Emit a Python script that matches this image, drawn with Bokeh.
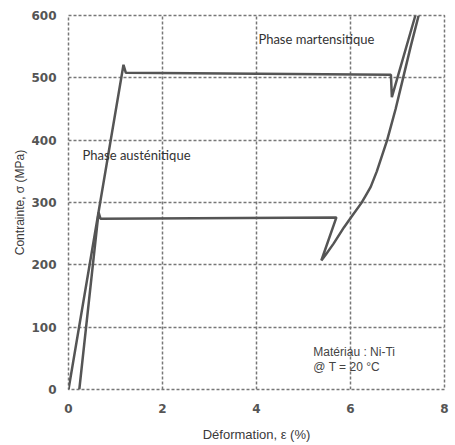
from bokeh.plotting import figure
from bokeh.models import Range1d, FixedTicker
from bokeh.embed import file_html
from bokeh.resources import INLINE
from bokeh.core.properties import value

# Loading path (austenite -> martensite)
load_x = [0.0, 1.17, 1.22, 6.86, 6.88, 7.38]
load_y = [0, 521, 508, 505, 469, 600]
# Unloading path (martensite -> austenite)
unload_x = [7.45, 7.28, 7.12, 6.96, 6.78, 6.56, 6.43, 6.33, 6.23, 6.04, 5.86, 5.64, 5.48, 5.38,
            5.70, 0.68, 0.64, 0.23]
unload_y = [600, 550, 500, 450, 400, 350, 325, 312, 299, 279, 260, 234, 217, 207,
            276, 274, 284, 0]

x_ticks = [0, 2, 4, 6, 8]
y_ticks = [0, 100, 200, 300, 400, 500, 600]

labels_text = ["Phase martensitique", "Phase austénitique"]
labels_x = [4.04, 0.30]
labels_y = [563, 376]

note_text = ["Matériau : Ni-Ti", "@ T = 20 °C"]
note_x = [5.21, 5.21]
note_y = [60, 36]

p = figure(width=450, height=444, output_backend="svg", toolbar_location=None,
           x_range=Range1d(0, 8), y_range=Range1d(0, 600),
           min_border_left=68, min_border_right=6, min_border_top=15, min_border_bottom=54)
p.outline_line_color = "#777777"
p.outline_line_dash = "3 2"
p.outline_line_width = 1.5
p.background_fill_color = "white"

for ax in (p.xaxis, p.yaxis):
    ax.axis_line_color = None
    ax.major_tick_line_color = None
    ax.minor_tick_line_color = None
    ax.major_label_text_color = "#555555"
    ax.major_label_text_font = "DejaVu Sans"
    ax.major_label_text_font_style = "bold"
    ax.major_label_text_font_size = "12px"
    ax.axis_label_text_color = "#3a3a3a"
    ax.axis_label_text_font = "Liberation Sans"
    ax.axis_label_text_font_style = "normal"

p.xaxis.axis_label_text_font_size = "13px"
p.yaxis.axis_label_text_font_size = "12px"
p.xaxis.ticker = FixedTicker(ticks=x_ticks)
p.yaxis.ticker = FixedTicker(ticks=y_ticks)
p.xaxis.axis_label = "Déformation, ε (%)"
p.yaxis.axis_label = "Contrainte, σ (MPa)"
p.xaxis.major_label_standoff = 8
p.yaxis.major_label_standoff = 6
p.xaxis.axis_label_standoff = 11
p.yaxis.axis_label_standoff = 1

for g in (p.xgrid, p.ygrid):
    g.grid_line_color = "#777777"
    g.grid_line_width = 1.5
    g.grid_line_dash = "3 2"
    g.grid_line_alpha = 1.0

p.line(load_x, load_y, line_color="#555555", line_width=2.5)
p.line(unload_x, unload_y, line_color="#555555", line_width=2.5)

p.text(labels_x, labels_y, text=labels_text, text_font=value("Lato"),
       text_font_size="13px", text_color="#333333", text_baseline="middle", text_align="left")
p.text(note_x, note_y, text=note_text, text_font=value("Liberation Sans"),
       text_font_size="12px", text_color="#444444", text_baseline="middle", text_align="left")

open("out.html", "w").write(file_html(p, INLINE))
